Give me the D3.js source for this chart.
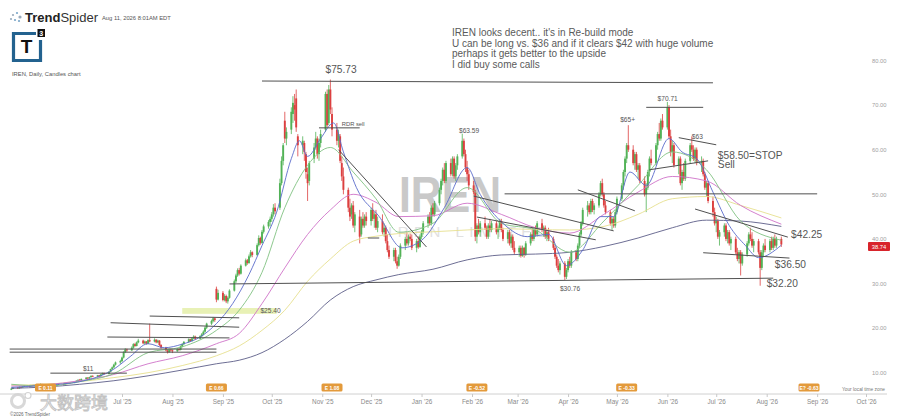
<!DOCTYPE html>
<html>
<head>
<meta charset="utf-8">
<script src="https://cdn.jsdelivr.net/npm/d3@7"></script>
<style>
  body { margin: 0; background: #fff; }
  svg { display: block; font-family: "Liberation Sans", "Open Sans", sans-serif; }
</style>
</head>
<body>
<div id="chart"></div>
<script>
// daily candles, one array per month, rows are [open, high, low, close]
const apr25 = [[6.2,6.6,6.1,6.4],[6.4,6.8,6.3,6.6],[6.7,6.8,6.4,6.5],[6.5,6.9,6.4,6.8],[6.8,6.9,6.5,6.7]];
const may25 = [[6.7,7.0,6.6,6.9],[6.9,7.2,6.8,7.1],[7.1,7.2,6.8,6.9],[6.9,7.3,6.8,7.2],[7.2,7.3,6.9,7.0],[7.0,7.4,6.9,7.3],[7.3,7.4,7.0,7.1],[7.1,7.6,7.0,7.4],[7.4,7.5,7.1,7.2],[7.2,7.3,6.8,6.9],[6.9,7.0,6.5,6.7],[6.7,6.9,6.5,6.8],[6.8,7.1,6.7,7.0],[7.0,7.3,6.9,7.2],[7.2,7.3,7.0,7.1],[7.1,7.4,7.0,7.3],[7.3,7.6,7.2,7.5],[7.5,7.6,7.2,7.4],[7.4,7.8,7.3,7.7],[7.7,7.8,7.4,7.6],[7.6,7.9,7.5,7.8],[7.8,7.9,7.5,7.7]];
const jun25 = [[7.7,8.0,7.6,7.9],[7.9,8.3,7.8,8.2],[8.2,8.5,8.1,8.4],[8.4,8.6,8.2,8.3],[8.3,8.7,8.2,8.6],[8.6,9.0,8.5,8.9],[8.9,9.0,8.6,8.7],[8.7,9.1,8.6,9.0],[9.0,9.4,8.9,9.3],[9.3,9.4,9.0,9.1],[9.1,9.5,9.0,9.4],[9.4,9.5,9.1,9.2],[9.2,9.7,9.1,9.6],[9.6,10.0,9.5,9.9],[9.9,10.0,9.6,9.7],[9.7,10.3,9.6,10.2],[10.2,10.9,10.1,10.8],[10.8,11.4,10.6,11.2],[11.2,12.0,11.0,11.8],[11.8,12.5,11.6,12.3],[12.3,12.9,12.0,12.6]];
const jul25 = [[12.6,13.6,12.4,13.4],[13.4,14.8,13.2,14.6],[14.6,15.5,14.4,15.2],[15.2,15.4,14.7,15.0],[15.0,15.9,14.9,15.6],[15.6,16.6,15.4,16.4],[16.4,16.7,15.8,16.0],[16.0,17.0,15.9,16.8],[16.8,17.6,16.6,17.2],[17.2,17.4,16.4,16.6],[16.6,17.2,16.4,17.0],[17.0,17.1,16.3,16.5],[16.5,17.5,16.4,17.3],[17.3,21.0,16.8,17.0],[17.0,17.7,16.8,17.4],[17.4,17.5,16.6,16.8],[16.8,17.4,16.6,17.2],[17.2,17.3,16.0,16.2],[16.2,16.4,15.4,15.6],[15.6,15.8,14.8,15.0],[15.0,15.2,14.3,14.6],[14.6,15.4,14.5,15.2],[15.2,15.4,14.7,15.0]];
const aug25 = [[15.0,15.2,14.4,14.8],[14.8,15.5,14.7,15.3],[15.3,15.5,14.9,15.1],[15.1,16.1,15.0,15.9],[15.9,16.6,15.7,16.4],[16.4,17.1,16.2,16.9],[16.9,17.7,16.7,17.5],[17.5,17.6,16.9,17.1],[17.1,17.9,17.0,17.7],[17.7,18.4,17.5,18.1],[18.1,18.3,17.4,17.6],[17.6,18.4,17.5,18.2],[18.2,18.9,18.0,18.6],[18.6,19.5,18.4,19.2],[19.2,20.4,19.0,20.1],[20.1,21.2,19.8,21.0],[21.0,21.9,20.7,21.6],[21.6,22.5,21.3,22.2],[22.2,22.4,21.4,21.8],[28.8,29.3,25.8,26.4],[26.4,28.6,26.2,27.9]];
const sep25 = [[27.9,28.3,26.0,26.3],[26.3,27.6,26.0,27.2],[27.2,27.5,25.6,26.0],[26.0,27.1,25.5,26.8],[26.8,28.7,26.6,28.4],[28.4,30.9,28.2,30.5],[30.5,32.2,30.1,31.8],[31.8,33.4,31.5,33.0],[33.0,33.5,31.8,32.2],[32.2,34.3,32.0,34.0],[34.0,35.6,33.8,35.2],[35.2,35.5,34.2,34.6],[34.6,36.5,34.4,36.1],[36.1,37.5,35.8,37.0],[37.0,37.2,35.9,36.4],[36.4,39.0,36.2,38.6],[38.6,40.8,38.3,40.2],[40.2,40.5,38.7,39.1],[39.1,42.0,38.9,41.6],[41.6,43.2,41.2,42.8],[42.8,44.2,42.3,43.8],[43.8,45.0,42.8,44.5]];
const oct25 = [[44.5,46.0,43.8,45.5],[45.5,47.8,45.0,47.0],[47.0,48.0,45.5,46.2],[47.0,53.5,46.5,52.5],[52.5,58.5,52.0,57.5],[57.5,61.5,56.5,61.0],[66.5,68.5,61.5,62.5],[62.5,65.0,61.0,64.0],[64.5,69.5,63.5,68.5],[68.0,72.0,66.0,70.5],[70.0,72.5,66.5,69.0],[71.5,73.5,64.0,65.0],[63.0,63.5,58.5,61.0],[61.0,63.0,59.0,62.0],[61.5,62.0,57.5,59.5],[59.0,59.5,53.5,55.0],[54.5,56.0,48.5,52.5],[53.0,57.5,52.0,57.0],[58.0,61.5,57.0,60.5],[60.5,64.0,60.0,62.5],[62.5,63.0,58.0,59.0],[59.0,62.5,57.5,61.5],[61.5,64.5,60.5,63.5]];
const nov25 = [[64.5,73.0,64.0,72.5],[72.5,73.5,65.0,65.5],[66.0,74.5,65.5,73.5],[73.5,75.73,68.0,69.0],[68.0,69.5,63.0,64.5],[64.5,66.0,61.0,62.0],[62.0,64.5,60.5,63.5],[63.0,63.5,57.0,57.5],[57.0,58.5,53.0,54.0],[54.0,56.0,50.0,51.0],[51.0,51.5,46.0,47.0],[47.0,49.0,44.0,45.0],[45.5,48.0,44.5,47.5],[47.5,48.5,42.5,43.0],[43.0,46.0,41.5,45.5],[45.0,46.5,39.0,40.5],[41.0,45.0,40.5,44.5],[44.5,46.0,42.5,43.0],[43.0,45.5,42.5,45.0],[45.0,46.0,43.0,44.0]];
const dec25 = [[44.0,47.0,43.0,46.5],[46.5,48.0,44.0,44.5],[44.5,46.0,42.5,45.5],[45.5,46.5,42.0,42.5],[42.5,45.0,41.5,44.0],[44.0,45.5,41.0,41.5],[41.5,43.5,40.5,42.5],[42.5,43.0,39.0,39.5],[39.5,41.0,37.0,37.5],[37.5,38.5,35.5,36.0],[36.0,38.0,35.0,37.5],[37.5,38.0,34.5,35.0],[35.0,36.0,33.3,34.0],[34.0,36.5,33.8,36.0],[36.0,39.0,35.5,38.5],[38.5,40.5,37.5,40.0],[40.0,41.5,38.5,39.0],[39.0,41.0,38.5,40.5],[40.5,41.2,39.5,40.0],[40.0,41.0,37.5,38.0],[38.0,40.0,37.0,39.5],[39.5,40.5,37.8,38.2],[38.2,41.0,38.0,40.5]];
const jan26 = [[40.5,42.0,40.0,41.5],[41.5,44.0,41.0,43.5],[43.5,45.5,42.5,45.0],[45.0,46.0,43.0,43.5],[43.5,47.5,43.0,47.0],[47.0,48.0,45.0,45.5],[45.5,48.5,45.0,48.0],[48.0,51.5,47.5,51.0],[51.0,53.5,50.0,53.0],[53.0,56.0,52.0,55.5],[55.5,57.0,52.5,53.0],[53.0,57.5,52.5,57.0],[57.0,58.0,54.0,54.5],[54.5,58.5,54.0,58.0],[58.0,58.5,53.5,54.0],[54.0,57.0,53.0,56.5],[56.5,59.0,55.5,58.5],[58.5,63.59,58.0,62.0],[62.0,62.5,58.5,59.0],[59.0,60.0,55.0,56.0],[56.0,57.5,53.0,54.5],[54.5,55.5,51.0,52.0]];
const feb26 = [[52.0,53.0,50.0,50.5],[50.5,51.0,39.5,40.5],[40.5,43.5,39.0,43.0],[43.0,44.5,41.0,41.5],[41.5,44.0,40.5,43.5],[43.5,45.0,42.0,42.5],[42.5,43.0,40.0,40.5],[40.5,43.5,40.0,43.0],[43.0,44.5,41.5,42.0],[42.0,44.0,41.5,43.5],[43.5,44.0,41.0,41.5],[41.5,43.0,40.0,42.5],[42.5,44.5,42.0,44.0],[44.0,44.5,41.5,42.0],[42.0,42.5,39.5,40.0],[40.0,42.0,39.0,41.5],[41.5,42.0,38.5,39.0],[39.0,41.0,38.0,40.5],[40.5,41.0,37.5,38.0],[38.0,39.5,36.5,37.0]];
const mar26 = [[37.0,38.5,36.0,38.0],[38.0,38.5,35.8,36.2],[36.2,38.5,36.0,38.0],[38.0,38.2,35.8,36.5],[36.5,39.5,36.2,39.0],[39.0,41.5,38.5,41.0],[41.0,42.5,39.5,40.0],[40.0,42.5,39.5,42.0],[42.0,43.0,40.5,41.0],[41.0,44.0,40.5,43.5],[43.5,44.5,41.5,42.0],[42.0,43.0,40.5,42.5],[42.5,43.0,40.0,40.5],[40.5,42.0,39.5,41.5],[41.5,42.5,39.5,40.0],[40.0,40.5,37.5,38.0],[38.0,38.5,35.5,36.0],[36.0,36.5,33.5,34.0],[34.0,35.5,32.5,33.0],[33.0,35.0,32.0,34.5],[34.5,35.0,30.76,31.5],[31.5,33.5,31.0,33.0]];
const apr26 = [[33.0,35.5,32.5,35.0],[35.0,36.0,33.5,34.0],[34.0,37.5,33.5,37.0],[37.0,37.5,35.0,35.5],[35.5,39.0,35.0,38.5],[38.5,41.5,38.0,41.0],[41.0,44.0,40.5,43.5],[43.5,47.0,43.0,46.5],[46.5,48.5,45.0,47.5],[47.5,48.0,45.5,46.0],[46.0,49.0,45.5,48.5],[48.5,49.0,46.0,46.5],[46.5,48.0,45.5,47.5],[47.5,50.5,47.0,50.0],[50.0,53.0,49.5,52.5],[52.5,53.5,49.5,50.0],[50.0,50.5,47.0,47.5],[47.5,48.5,45.5,46.0],[46.0,46.5,43.0,43.5],[43.5,45.0,42.0,44.5],[44.5,45.0,42.5,43.0],[43.0,46.5,42.5,46.0]];
const may26 = [[46.0,49.5,45.5,49.0],[49.0,52.5,48.5,52.0],[52.0,55.5,51.0,55.0],[55.0,58.5,54.0,58.0],[58.0,61.5,57.0,61.0],[61.0,65.5,59.5,60.0],[60.0,61.0,56.5,57.0],[57.0,59.5,55.5,59.0],[59.0,59.5,55.0,55.5],[55.5,57.0,53.5,56.5],[56.5,57.0,52.5,53.0],[53.0,54.0,49.5,50.0],[50.0,52.5,46.0,51.5],[51.5,55.5,51.0,55.0],[55.0,58.5,54.0,58.0],[58.0,60.0,56.5,57.0],[57.0,61.5,56.5,61.0],[61.0,64.0,60.0,63.5],[63.5,66.0,62.0,62.5],[62.5,67.0,62.0,66.5],[66.5,68.0,64.5,65.0]];
const jun26 = [[65.0,70.71,64.5,69.5],[69.5,70.0,62.5,63.0],[63.0,64.5,58.5,59.5],[59.5,62.0,57.0,61.0],[61.0,61.5,56.0,56.5],[56.5,58.5,54.5,58.0],[58.0,58.5,52.0,52.5],[52.5,55.5,51.0,55.0],[55.0,57.0,53.0,53.5],[53.5,58.0,53.0,57.5],[57.5,61.5,57.0,61.0],[61.0,63.0,59.5,60.0],[60.0,61.0,57.5,58.0],[58.0,60.5,57.0,60.0],[60.0,60.5,56.5,57.0],[57.0,58.5,55.0,57.5],[57.5,58.0,54.0,54.5],[54.5,55.0,51.0,51.5],[51.5,53.0,49.5,52.5],[52.5,53.0,48.0,48.5],[48.5,49.5,45.0,46.0],[46.0,47.0,43.0,43.5]];
const jul26 = [[43.5,45.0,41.5,44.0],[44.0,44.5,40.0,40.5],[40.5,42.0,38.5,41.5],[41.5,43.5,40.5,43.0],[43.0,43.5,39.5,40.0],[40.0,42.0,39.0,41.5],[41.5,42.0,38.5,39.0],[39.0,40.5,37.5,40.0],[40.0,40.5,36.5,37.0],[37.0,38.0,35.0,35.5],[35.5,37.5,34.5,37.0],[37.0,37.5,31.8,34.5],[34.5,37.0,34.0,36.5],[36.5,39.5,36.0,39.0],[39.0,41.5,38.5,41.0],[41.0,42.5,39.5,40.0],[40.0,41.5,38.0,38.5],[38.5,40.0,37.0,39.5],[39.5,40.0,36.5,37.0],[37.0,37.5,29.5,33.5],[33.5,37.5,33.0,37.0],[37.0,39.0,36.0,38.5],[38.5,40.0,37.0,37.5]];
const aug26 = [[37.5,40.0,37.0,39.5],[39.5,40.5,37.5,38.0],[38.0,40.5,37.5,40.0],[40.0,41.0,38.0,38.5],[38.5,40.5,38.0,40.0],[40.0,40.5,38.2,38.74]];

// first trading day of each block
const months = [
  ['2025-04-24', apr25], ['2025-05-01', may25], ['2025-06-02', jun25], ['2025-07-01', jul25],
  ['2025-08-01', aug25], ['2025-09-01', sep25], ['2025-10-01', oct25], ['2025-11-03', nov25],
  ['2025-12-01', dec25], ['2026-01-01', jan26], ['2026-02-02', feb26], ['2026-03-02', mar26],
  ['2026-04-01', apr26], ['2026-05-01', may26], ['2026-06-01', jun26], ['2026-07-01', jul26],
  ['2026-08-03', aug26]
];

// moving averages
const maDates = ['2025-04-24','2025-05-15','2025-06-05','2025-06-26','2025-07-17','2025-08-07','2025-08-28','2025-09-11','2025-09-25','2025-10-09','2025-10-23','2025-11-06','2025-11-20','2025-12-04','2025-12-18','2026-01-08','2026-01-29','2026-02-19','2026-03-12','2026-04-02','2026-04-23','2026-05-14','2026-06-04','2026-06-25','2026-07-16','2026-08-10'];
const maNavy = [6.5,6.8,7.4,8.2,9.3,10.6,12.0,12.8,14.5,17.5,21.5,26.3,29.3,30.8,32.0,33.2,35.3,36.4,36.6,37.0,38.3,40.2,42.5,44.2,44.0,42.8];
const maYellow = [7.2,7.4,8.0,8.9,10.0,11.6,13.8,16.0,19.5,24.0,30.5,35.5,39.5,40.6,41.2,41.6,42.0,42.3,42.1,42.0,42.8,45.5,49.0,49.5,47.5,44.7];
const maPink = [7.0,7.3,8.2,9.6,12.0,13.8,16.5,18.8,25.5,33.5,41.0,46.5,50.0,48.2,45.0,45.2,48.0,45.5,42.5,41.3,45.5,50.5,54.0,53.0,47.5,43.3];
const maGreen = [7.4,7.0,8.0,9.8,14.5,15.8,19.5,24.0,32.5,47.0,56.5,60.5,55.0,49.0,41.5,43.5,51.5,43.5,42.0,37.0,44.0,52.0,59.5,55.5,44.0,39.7];
const maBlue = [['2025-04-24',6.7],['2025-05-15',7.2],['2025-06-05',8.0],['2025-06-26',10.8],['2025-07-06',13.6],['2025-07-17',16.5],['2025-07-27',15.6],['2025-08-07',16.4],['2025-08-18',18.0],['2025-08-28',21.0],['2025-09-07',25.5],['2025-09-17',32.0],['2025-09-25',38.5],['2025-10-04',46.0],['2025-10-13',58.0],['2025-10-18',62.0],['2025-10-23',58.5],['2025-10-31',62.5],['2025-11-08',66.0],['2025-11-14',59.5],['2025-11-22',51.5],['2025-12-06',45.0],['2025-12-20',38.0],['2026-01-02',40.0],['2026-01-15',47.0],['2026-01-29',56.0],['2026-02-06',50.0],['2026-02-20',43.5],['2026-03-07',40.5],['2026-03-20',41.0],['2026-03-31',34.0],['2026-04-10',37.5],['2026-04-21',45.0],['2026-04-29',45.0],['2026-05-09',55.0],['2026-05-19',52.0],['2026-06-02',62.5],['2026-06-10',59.5],['2026-06-19',58.0],['2026-06-29',50.5],['2026-07-09',43.0],['2026-07-19',38.5],['2026-07-27',35.8],['2026-08-10',38.6]];

// hand drawn lines [[date, price], [date, price]]
const trendLines = [
  [['2025-09-25',75.4],['2026-06-29',75.0]],
  [['2025-09-05',29.9],['2026-08-05',31.2]],
  [['2026-02-21',50.1],['2026-09-01',50.1]],
  [['2026-05-19',69.5],['2026-06-23',69.5]],
  [['2026-06-08',62.7],['2026-07-01',61.1]],
  [['2026-05-21',55.5],['2026-06-26',57.5]],
  [['2026-06-18',46.7],['2026-08-14',40.4]],
  [['2026-06-23',36.9],['2026-08-15',35.7]],
  [['2026-02-02',49.6],['2026-04-29',41.8]],
  [['2026-02-04',44.9],['2026-04-18',39.8]],
  [['2026-04-07',51.0],['2026-05-12',46.3]],
  [['2025-11-11',60.0],['2026-01-04',38.2]],
  [['2025-11-29',40.2],['2025-12-06',40.2]],
  [['2025-10-30',64.9],['2025-11-24',64.9]],
  [['2025-05-18',9.9],['2025-07-04',9.9]],
  [['2025-04-23',15.3],['2025-08-28',15.3]],
  [['2025-04-23',14.6],['2025-08-28',14.6]],
  [['2025-06-22',18.0],['2025-09-05',17.8]],
  [['2025-06-24',21.2],['2025-09-11',20.2]],
  [['2025-07-18',22.7],['2025-09-11',22.3]]
];
const zone2540 = [['2025-08-07', 24.5], ['2025-10-04', 23.2]];

// text labels placed at [date, price]
const bigLabels = [
  ['2025-11-03', 77.2, '$75.73'],
  ['2026-07-02', 58.0, '$58.50=STOP'],
  ['2026-07-02', 55.9, 'Sell'],
  ['2026-08-16', 40.2, '$42.25'],
  ['2026-08-06', 33.5, '$36.50'],
  ['2026-08-01', 29.2, '$32.20']
];
const smallLabels = [
  ['2025-11-13', 65.35, 'RDR sell'],
  ['2026-01-24', 63.8, '$63.59'],
  ['2026-03-27', 28.3, '$30.76'],
  ['2026-05-03', 66.3, '$65+'],
  ['2026-05-26', 71.0, '$70.71'],
  ['2026-06-16', 62.4, '$63'],
  ['2025-09-24', 23.4, '$25.40'],
  ['2025-06-07', 10.4, '$11']
];
const earnings = [['2025-05-15','E 0.11'],['2025-08-28','E 0.66'],['2025-11-07','E 1.08'],['2026-02-04','E -0.52'],['2026-05-07','E -0.33'],['2026-08-27','E? -0.63']];
const noteLines = ["IREN looks decent.. it's in Re-build mode", 'U can be long vs. $36 and if it clears $42 with huge volume', 'perhaps it gets better to the upside', 'I did buy some calls'];
const yTicks = [10, 20, 30, 40, 50, 60, 70, 80];
const lastPrice = 38.74;

const parse = d3.timeParse('%Y-%m-%d');

// expand month blocks into weekday candles
const candles = [];
months.forEach(([start, rows]) => {
  const s = parse(start);
  const end = d3.timeMonth.offset(d3.timeMonth.floor(s), 1);
  const days = d3.timeDay.range(s, end).filter((d) => d.getDay() % 6 !== 0);
  rows.forEach((r, i) => candles.push({ date: days[i], o: r[0], h: r[1], l: r[2], c: r[3] }));
});

const W = 900, H = 418;
const svg = d3.select('#chart').append('svg')
  .attr('width', W).attr('height', H).attr('viewBox', [0, 0, W, H]);

const x = d3.scaleTime().domain([parse('2025-07-01'), parse('2026-10-01')]).range([122, 866]);
const y = d3.scaleLinear().domain([10, 80]).range([372.7, 60.5]);

// header
const logo = svg.append('g');
[[13, 15], [17, 13], [20, 17], [15, 20], [11, 19], [19, 21]].forEach(([cx, cy], i) =>
  logo.append('circle').attr('cx', cx).attr('cy', cy).attr('r', i === 2 ? 1.6 : 1.1).attr('fill', i % 2 ? '#7aa6c8' : '#9ab'));
logo.append('text').attr('x', 25).attr('y', 22).attr('font-size', 13).attr('fill', '#222')
  .call((t) => { t.append('tspan').attr('font-weight', 700).text('Trend'); t.append('tspan').attr('fill', '#333').text('Spider'); });
svg.append('text').attr('x', 102).attr('y', 20).attr('font-size', 5.8).attr('fill', '#555').text('Aug 11, 2026 8:01AM EDT');

const t3 = svg.append('g');
t3.append('path').attr('d', 'M36,33.5 H13.5 V60.5 H40.5 V40').attr('fill', 'none').attr('stroke', '#23628f').attr('stroke-width', 3.2);
t3.append('text').attr('x', 26.5).attr('y', 53).attr('text-anchor', 'middle').attr('font-size', 19).attr('font-weight', 700).attr('fill', '#111').text('T');
t3.append('rect').attr('x', 37.5).attr('y', 29).attr('width', 7.5).attr('height', 8).attr('fill', '#111');
t3.append('text').attr('x', 41.2).attr('y', 35.6).attr('text-anchor', 'middle').attr('font-size', 7).attr('font-weight', 700).attr('fill', '#fff').text('3');
svg.append('text').attr('x', 12).attr('y', 76).attr('font-size', 5.8).attr('fill', '#555').text('IREN, Daily, Candles chart');

svg.append('g').selectAll('text').data(noteLines).join('text')
  .attr('x', 452).attr('y', (d, i) => 36 + i * 10.5)
  .attr('font-size', 10).attr('fill', '#5a5a5a').text((d) => d);

// watermark
svg.append('text').attr('x', 399).attr('y', 212)
  .attr('font-size', 50).attr('font-weight', 700).attr('fill', '#c9c9c9')
  .attr('textLength', 102).attr('lengthAdjust', 'spacingAndGlyphs').text('IREN');
svg.append('text').attr('x', 388).attr('y', 237)
  .attr('font-size', 15).attr('letter-spacing', 5.5).attr('fill', '#e1e1e1').text('IREN LIMITED');

// drawn levels
svg.append('rect')
  .attr('x', x(parse(zone2540[0][0]))).attr('y', y(zone2540[0][1]))
  .attr('width', x(parse(zone2540[1][0])) - x(parse(zone2540[0][0])))
  .attr('height', y(zone2540[1][1]) - y(zone2540[0][1]))
  .attr('fill', '#e4efa8').attr('opacity', 0.85);

// candles
const cg = svg.append('g');
cg.selectAll('line').data(candles).join('line')
  .attr('x1', (d) => x(d.date)).attr('x2', (d) => x(d.date))
  .attr('y1', (d) => y(d.h)).attr('y2', (d) => y(d.l))
  .attr('stroke', (d) => (d.c >= d.o ? '#52b257' : '#dc4040')).attr('stroke-width', 0.8);
cg.selectAll('rect').data(candles).join('rect')
  .attr('x', (d) => x(d.date) - 0.95).attr('width', 1.9)
  .attr('y', (d) => y(Math.max(d.o, d.c)))
  .attr('height', (d) => Math.max(0.7, Math.abs(y(d.o) - y(d.c))))
  .attr('fill', (d) => (d.c >= d.o ? '#52b257' : '#dc4040'));

// moving averages
const line = d3.line().x((d) => x(parse(d[0]))).y((d) => y(d[1])).curve(d3.curveMonotoneX);
const maSeries = [
  [maNavy, '#5c5d88'],
  [maYellow, '#e7e08e'],
  [maPink, '#cf73c8'],
  [maGreen, '#80c281']
];
maSeries.forEach(([vals, color]) => {
  svg.append('path').datum(maDates.map((d, i) => [d, vals[i]]))
    .attr('d', line).attr('fill', 'none').attr('stroke', color).attr('stroke-width', 0.9);
});
svg.append('path').datum(maBlue).attr('d', line).attr('fill', 'none').attr('stroke', '#5a6bcb').attr('stroke-width', 0.9);

svg.append('g').selectAll('line').data(trendLines).join('line')
  .attr('x1', (d) => x(parse(d[0][0]))).attr('y1', (d) => y(d[0][1]))
  .attr('x2', (d) => x(parse(d[1][0]))).attr('y2', (d) => y(d[1][1]))
  .attr('stroke', '#505050').attr('stroke-width', 1);

svg.append('g').selectAll('text').data(bigLabels).join('text')
  .attr('x', (d) => x(parse(d[0]))).attr('y', (d) => y(d[1]))
  .attr('font-size', 10.2).attr('fill', '#555').text((d) => d[2]);
svg.append('g').selectAll('text').data(smallLabels).join('text')
  .attr('x', (d) => x(parse(d[0]))).attr('y', (d) => y(d[1]))
  .attr('font-size', (d) => (d[2] === 'RDR sell' ? 5.8 : 6.6)).attr('fill', '#555').text((d) => d[2]);

// axes
svg.append('line').attr('x1', 0).attr('x2', 887).attr('y1', 394).attr('y2', 394).attr('stroke', '#d0d0d0');
const xAxis = d3.axisBottom(x)
  .tickValues(d3.timeMonth.range(parse('2025-07-01'), parse('2026-10-02')))
  .tickFormat(d3.timeFormat("%b '%y")).tickSize(3).tickPadding(2);
svg.append('g').attr('transform', 'translate(0,394)').call(xAxis)
  .call((g) => g.select('.domain').remove())
  .call((g) => g.selectAll('line').attr('stroke', '#c8c8c8'))
  .call((g) => g.selectAll('text').attr('fill', '#8a8a8a').attr('font-size', 6.4).attr('font-family', 'Liberation Sans, sans-serif'));

const yAxis = d3.axisRight(y).tickValues(yTicks).tickFormat(d3.format('.2f')).tickSize(0).tickPadding(0);
svg.append('g').attr('transform', 'translate(872,0)').call(yAxis)
  .call((g) => g.select('.domain').remove())
  .call((g) => g.selectAll('text').attr('fill', '#a0a0a0').attr('font-size', 5.8).attr('font-family', 'Liberation Sans, sans-serif'));

const tag = svg.append('g').attr('transform', `translate(868,${y(lastPrice) + 2})`);
tag.append('rect').attr('x', 0).attr('y', -4.5).attr('width', 22).attr('height', 9).attr('rx', 1).attr('fill', '#d8242b');
tag.append('text').attr('x', 11).attr('y', 2).attr('text-anchor', 'middle').attr('font-size', 5.8).attr('fill', '#fff').text(lastPrice.toFixed(2));

// earnings badges
const eg = svg.append('g').selectAll('g').data(earnings).join('g')
  .attr('transform', (d) => `translate(${x(parse(d[0]))},387.5)`);
eg.append('rect').attr('x', -10.5).attr('y', -4).attr('width', 21).attr('height', 8).attr('rx', 1.5).attr('fill', '#e39a3b');
eg.append('text').attr('y', 2).attr('text-anchor', 'middle').attr('font-size', 5).attr('font-weight', 700).attr('fill', '#fff').text((d) => d[1]);

svg.append('text').attr('x', 885).attr('y', 391).attr('text-anchor', 'end').attr('font-size', 4.8).attr('fill', '#777').text('Your local time zone');
svg.append('text').attr('x', 10).attr('y', 416).attr('font-size', 4.6).attr('fill', '#666').text('\u00a92026 TrendSpider');

// overlay watermark at bottom left
const wm = svg.append('g').attr('opacity', 0.9);
wm.append('circle').attr('cx', 18).attr('cy', 401).attr('r', 6.5).attr('fill', 'none').attr('stroke', '#d4d4d4').attr('stroke-width', 3);
wm.append('circle').attr('cx', 28).attr('cy', 395.5).attr('r', 3).attr('fill', '#fff').attr('stroke', '#cfcfcf').attr('stroke-width', 1.2);
wm.append('text').attr('x', 40).attr('y', 408.5).attr('font-size', 17).attr('font-family', 'Noto Sans CJK SC, sans-serif')
  .attr('fill', '#fff').attr('stroke', '#bcbcbc').attr('stroke-width', 0.9).text('大数跨境');
</script>
</body>
</html>
